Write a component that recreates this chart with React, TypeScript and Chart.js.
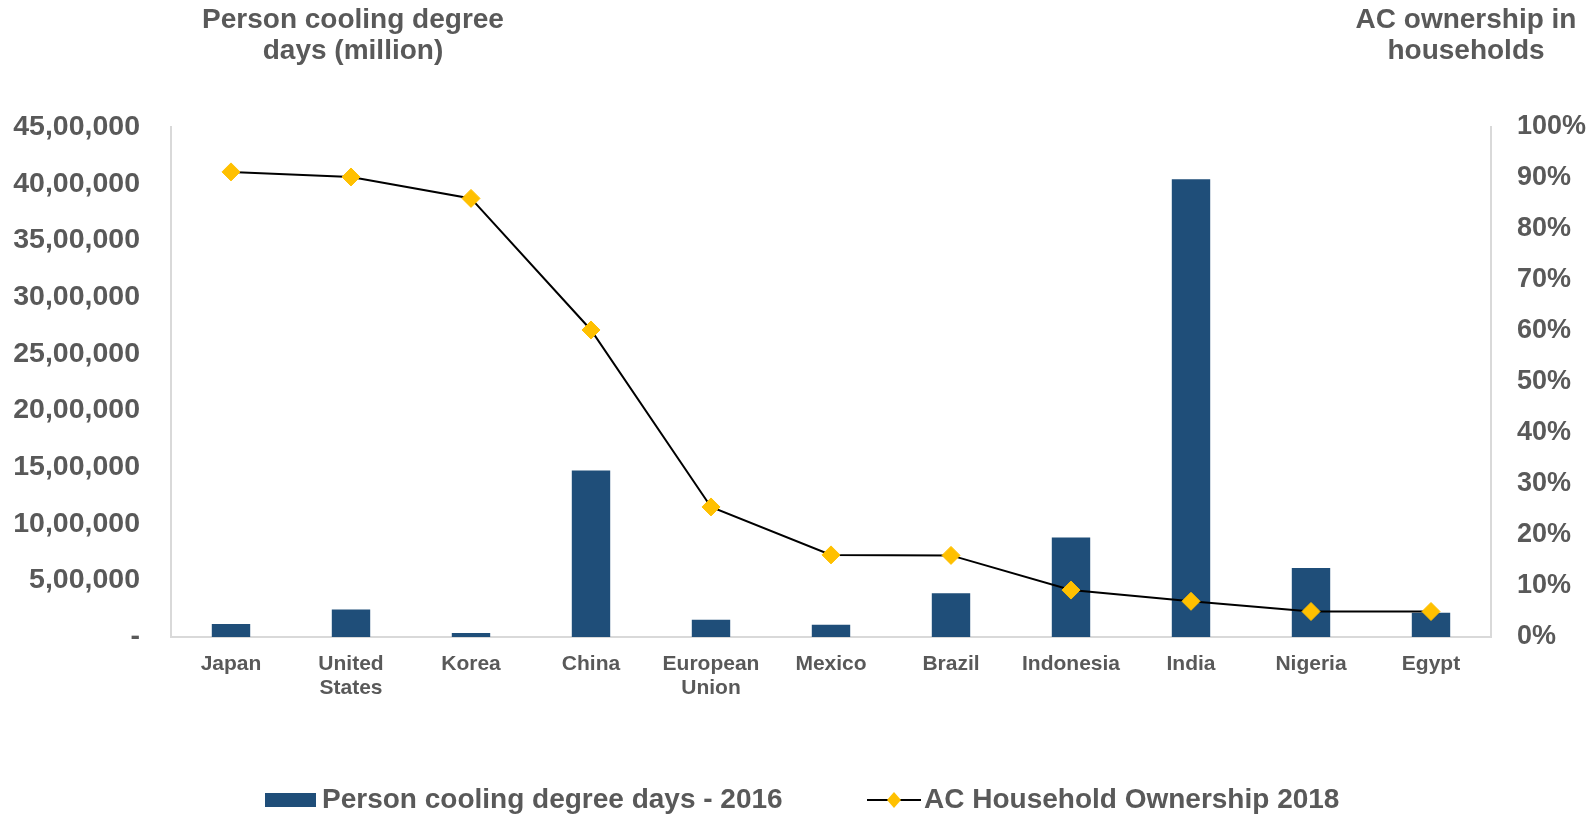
import React, { useEffect, useRef } from "react";
import { Chart, registerables } from "chart.js";

Chart.register(...registerables);

const categories: string[][] = [
  ["Japan"],
  ["United", "States"],
  ["Korea"],
  ["China"],
  ["European", "Union"],
  ["Mexico"],
  ["Brazil"],
  ["Indonesia"],
  ["India"],
  ["Nigeria"],
  ["Egypt"],
];
const coolingDegreeDays = [115000, 242000, 36000, 1470000, 152000, 107000, 385000, 878000, 4040000, 609000, 215000];
const acOwnership = [91.2, 90.2, 86, 60.2, 25.5, 16.1, 16, 9.2, 7, 5, 5];
const leftTickLabels = ["-", "5,00,000", "10,00,000", "15,00,000", "20,00,000", "25,00,000", "30,00,000", "35,00,000", "40,00,000", "45,00,000"];
const rightTickLabels = ["0%", "10%", "20%", "30%", "40%", "50%", "60%", "70%", "80%", "90%", "100%"];
const leftTitle = ["Person cooling degree", "days (million)"];
const rightTitle = ["AC ownership in", "households"];
const barLabel = "Person cooling degree days - 2016";
const lineLabel = "AC Household Ownership 2018";

const FONT = "'Liberation Sans', Arial, sans-serif";
const TEXT = "#595959";
const BAR = "#1F4E79";
const GOLD = "#FFC000";
const AXIS = "#D9D9D9";

const overlayPlugin = {
  id: "overlay",
  afterDraw(chart: any) {
    const { ctx, chartArea } = chart;
    ctx.save();
    ctx.fillStyle = TEXT;
    ctx.font = `bold 28px ${FONT}`;
    ctx.textAlign = "center";
    ctx.textBaseline = "middle";
    leftTitle.forEach((t, i) => ctx.fillText(t, chartArea.left + 182, 20 + i * 31));
    rightTitle.forEach((t, i) => ctx.fillText(t, chartArea.right - 25, 20 + i * 31));

    // legend
    const ly = chart.height - 14;
    const x0 = chartArea.left + 94;
    ctx.fillStyle = BAR;
    ctx.fillRect(x0, ly - 7, 51, 14);
    ctx.fillStyle = TEXT;
    ctx.textAlign = "left";
    ctx.font = `bold 28px ${FONT}`;
    ctx.fillText(barLabel, x0 + 57, ly);

    const x1 = chartArea.left + 696;
    ctx.strokeStyle = "#000";
    ctx.lineWidth = 2;
    ctx.beginPath();
    ctx.moveTo(x1, ly);
    ctx.lineTo(x1 + 54, ly);
    ctx.stroke();
    ctx.fillStyle = GOLD;
    ctx.beginPath();
    ctx.moveTo(x1 + 27, ly - 8);
    ctx.lineTo(x1 + 34, ly);
    ctx.lineTo(x1 + 27, ly + 8);
    ctx.lineTo(x1 + 20, ly);
    ctx.closePath();
    ctx.fill();
    ctx.fillStyle = TEXT;
    ctx.fillText(lineLabel, x1 + 57, ly);
    ctx.restore();
  },
};

export default function App() {
  const ref = useRef<HTMLCanvasElement | null>(null);
  useEffect(() => {
    if (!ref.current) return;
    const chart = new Chart(ref.current, {
      type: "bar",
      data: {
        labels: categories,
        datasets: [
          {
            type: "line",
            label: lineLabel,
            data: acOwnership,
            yAxisID: "y1",
            borderColor: "#000000",
            borderWidth: 2,
            pointStyle: "rectRot",
            pointRadius: 9,
            pointBackgroundColor: GOLD,
            pointBorderColor: GOLD,
            pointBorderWidth: 1,
            tension: 0,
            order: 0,
          } as any,
          {
            type: "bar",
            label: barLabel,
            data: coolingDegreeDays,
            yAxisID: "y",
            backgroundColor: BAR,
            barPercentage: 0.32,
            categoryPercentage: 1,
            order: 1,
          },
        ],
      },
      options: {
        animation: false,
        responsive: true,
        maintainAspectRatio: false,
        layout: { padding: { top: 127, left: 0, right: 0, bottom: 0 } },
        plugins: { legend: { display: false }, title: { display: false }, tooltip: { enabled: false } },
        scales: {
          x: {
            grid: { display: false, drawTicks: false },
            border: { display: true, color: AXIS, width: 2 },
            ticks: {
              color: TEXT,
              font: { family: FONT, size: 21, weight: "bold", lineHeight: 1.15 },
              padding: 15,
              maxRotation: 0,
              autoSkip: false,
            },
            afterFit(scale: any) {
              scale.height = 177;
            },
          },
          y: {
            position: "left",
            min: 0,
            max: 4500000,
            grid: { display: false, drawTicks: false },
            border: { display: true, color: AXIS, width: 2 },
            ticks: {
              stepSize: 500000,
              color: TEXT,
              font: { family: FONT, size: 28.5, weight: "bold" },
              padding: 31,
              callback: (_v: any, i: number) => leftTickLabels[i],
            },
            afterFit(scale: any) {
              scale.width = 171;
            },
          },
          y1: {
            position: "right",
            min: 0,
            max: 100,
            grid: { display: false, drawTicks: false },
            border: { display: true, color: AXIS, width: 2 },
            ticks: {
              stepSize: 10,
              color: TEXT,
              font: { family: FONT, size: 27, weight: "bold" },
              padding: 26,
              callback: (_v: any, i: number) => rightTickLabels[i],
            },
            afterFit(scale: any) {
              scale.width = 105;
            },
          },
        },
      },
      plugins: [overlayPlugin],
    });
    return () => chart.destroy();
  }, []);
  return (
    <div style={{ position: "fixed", left: 0, top: 0, width: 1596, height: 814, background: "#fff" }}>
      <canvas ref={ref} />
    </div>
  );
}
